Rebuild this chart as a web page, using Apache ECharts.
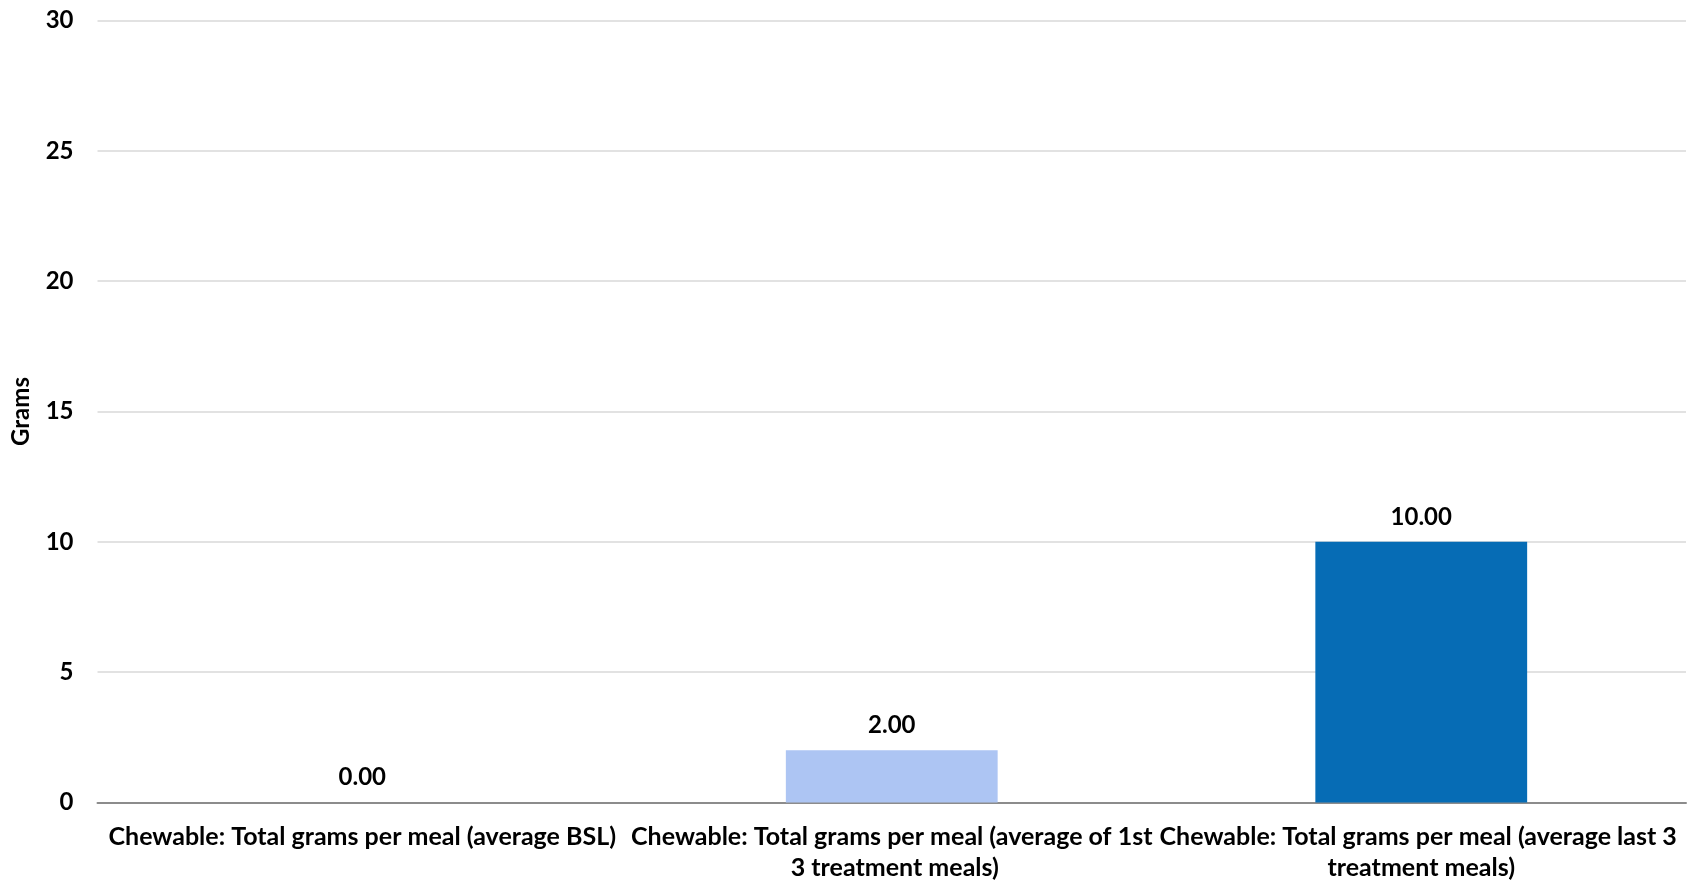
<!DOCTYPE html>
<html>
<head>
<meta charset="utf-8">
<script src="https://cdn.jsdelivr.net/npm/echarts@6/dist/echarts.min.js"></script>
<style>
html,body{margin:0;padding:0;background:#fff;}
#chart{width:1698px;height:885px;}
</style>
</head>
<body>
<div id="chart"></div>
<script>
const categories = [
  "Chewable: Total grams per meal (average BSL)",
  "Chewable: Total grams per meal (average of 1st 3 treatment meals)",
  "Chewable: Total grams per meal (average last 3 treatment meals)"
];
const values = [0.00, 2.00, 10.00];
const barColors = ["#7f7f7f", "#adc5f3", "#066cb5"];
const yTicks = [0, 5, 10, 15, 20, 25, 30];
const yAxisName = "Grams";

const FONT = "Lato, 'Open Sans', sans-serif";
const chart = echarts.init(document.getElementById('chart'), null, {renderer: 'canvas'});
chart.setOption({
  animation: false,
  backgroundColor: '#ffffff',
  grid: {left: 97.5, right: 12, top: 20.5, bottom: 82.5, containLabel: false},
  xAxis: {
    type: 'category',
    data: categories,
    axisLine: {lineStyle: {color: '#8c8c8c', width: 2}},
    axisTick: {show: false},
    axisLabel: {
      interval: 0,
      color: '#000',
      fontFamily: FONT,
      fontWeight: 'bold',
      fontSize: 25,
      lineHeight: 31,
      margin: 19,
      width: 529,
      overflow: 'break'
    }
  },
  yAxis: {
    type: 'value',
    min: yTicks[0],
    max: yTicks[yTicks.length - 1],
    interval: 5,
    name: yAxisName,
    nameLocation: 'middle',
    nameGap: 64,
    nameTextStyle: {color: '#000', fontFamily: FONT, fontWeight: 'bold', fontSize: 24},
    axisLine: {show: false},
    axisTick: {show: false},
    axisLabel: {color: '#000', fontFamily: FONT, fontWeight: 'bold', fontSize: 24, margin: 24},
    splitLine: {lineStyle: {color: '#d9d9d9', width: 1.5}}
  },
  series: [{
    type: 'bar',
    data: values.map((v, i) => ({value: v, itemStyle: {color: barColors[i]}})),
    barWidth: '40%',
    label: {
      show: true,
      position: 'top',
      distance: 13,
      color: '#000',
      fontFamily: FONT,
      fontWeight: 'bold',
      fontSize: 24,
      formatter: p => p.value.toFixed(2)
    }
  }]
});
</script>
</body>
</html>
